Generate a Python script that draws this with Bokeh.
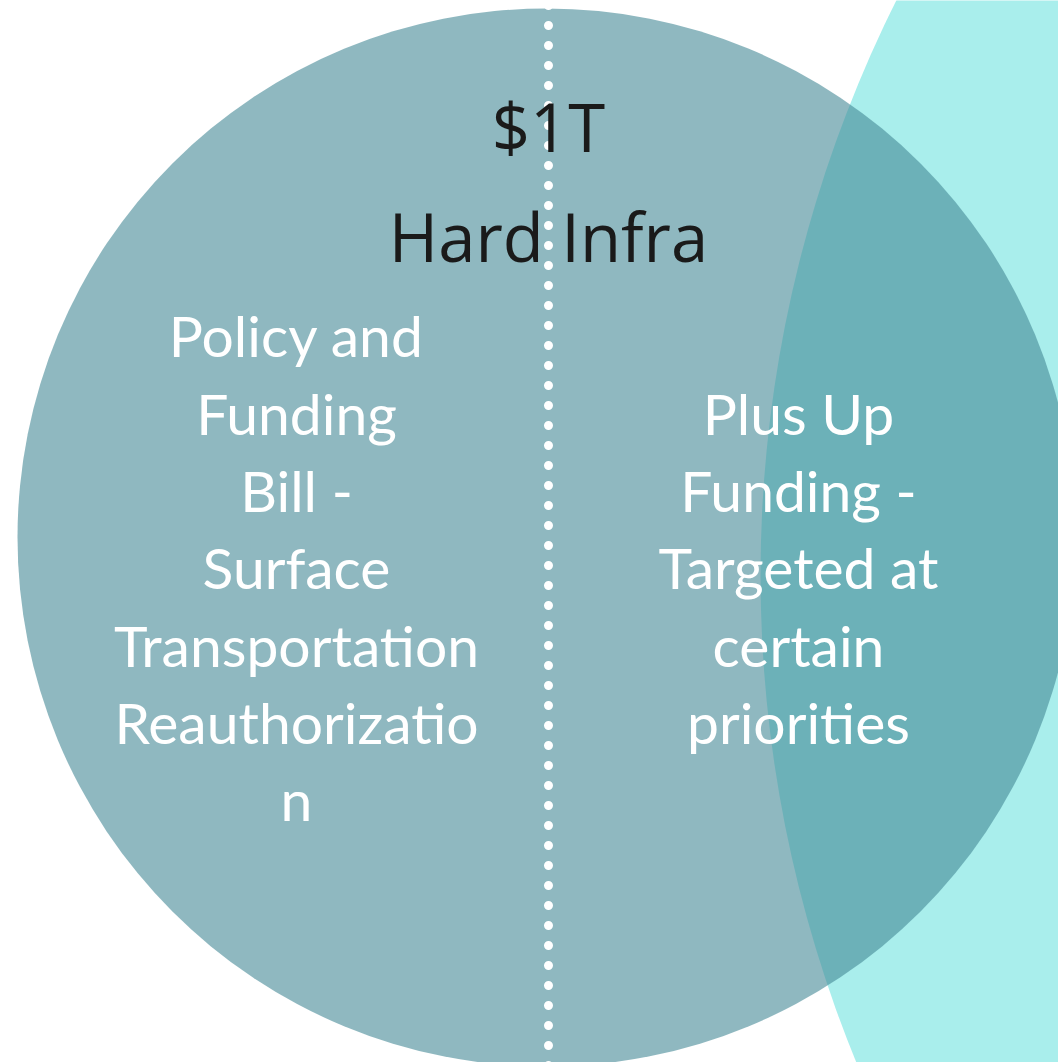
from bokeh.plotting import figure
from bokeh.models import Range1d
from bokeh.core.properties import value
from bokeh.embed import file_html
from bokeh.resources import INLINE

# ---- data ----
set_names = ["Hard Infra", "Other"]
set_colors = ["#448896", "#A9EEEC"]
set_alphas = [0.6, 1.0]
circle_x = [546, 2045]
circle_y = [537, 575]
circle_r = [529, 1285]

headline = "$1T"
title = "Hard Infra"
left_lines = ["Policy and", "Funding", "Bill -", "Surface", "Transportation",
              "Reauthorizatio", "n"]
right_lines = ["Plus Up", "Funding -", "Targeted at", "certain", "priorities"]

# ---- figure ----
W, H = 1058, 1062
p = figure(width=W, height=H, output_backend="svg", toolbar_location=None,
           x_range=Range1d(0, W), y_range=Range1d(H, 0),
           min_border=0, outline_line_color=None,
           x_axis_location=None, y_axis_location=None)
p.grid.visible = False
p.background_fill_color = "white"
p.border_fill_color = "white"

# cyan circle (behind), then main circle on top with transparency
p.circle(x=[circle_x[1]], y=[circle_y[1]], radius=[circle_r[1]],
         fill_color=set_colors[1], fill_alpha=set_alphas[1], line_color=None)
p.circle(x=[circle_x[0]], y=[circle_y[0]], radius=[circle_r[0]],
         fill_color=set_colors[0], fill_alpha=set_alphas[0], line_color=None)

# dotted divider
div_x = 548
p.line(x=[div_x, div_x], y=[5, 1070], line_color="white", line_width=9,
       line_dash="0 20", line_cap="round")

# headline texts (baseline offset compensates Bokeh's text box placement)
hs = 67
p.text(x=[div_x], y=[152 - 0.39 * hs], text=[headline], text_align="center",
       text_baseline="alphabetic", text_color="#1a1a1a",
       text_font=value("Open Sans"), text_font_size=f"{hs}px")
p.text(x=[div_x], y=[262 - 0.39 * hs], text=[title], text_align="center",
       text_baseline="alphabetic", text_color="#1a1a1a",
       text_font=value("Open Sans"), text_font_size=f"{hs}px")

# body texts
bs = 57
line_gap = 77.3
mid_y = 589 - 0.39 * bs


def ys(n):
    return [mid_y + (i - (n - 1) / 2) * line_gap for i in range(n)]


p.text(x=[296] * len(left_lines), y=ys(len(left_lines)), text=left_lines,
       text_align="center", text_baseline="alphabetic", text_color="white",
       text_font=value("Lato"), text_font_size=f"{bs}px")
p.text(x=[798] * len(right_lines), y=ys(len(right_lines)), text=right_lines,
       text_align="center", text_baseline="alphabetic", text_color="white",
       text_font=value("Lato"), text_font_size=f"{bs}px")

open("out.html", "w").write(file_html(p, INLINE))
